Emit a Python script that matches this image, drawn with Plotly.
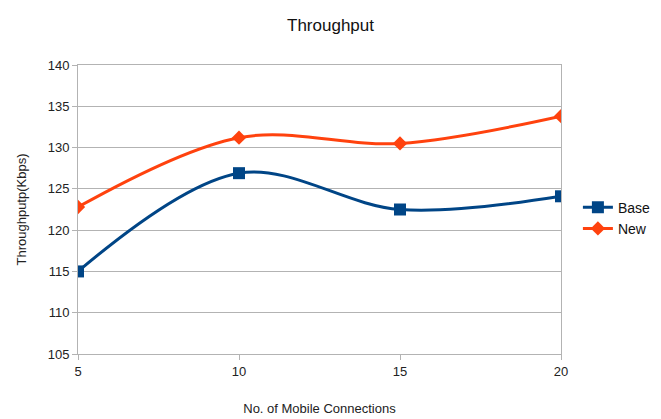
import plotly.graph_objects as go

connections = [5, 10, 15, 20]
base = [115.0, 126.9, 122.5, 124.1]
new = [122.8, 131.2, 130.5, 133.8]
y_ticks = [105, 110, 115, 120, 125, 130, 135, 140]

fig = go.Figure()
fig.add_trace(go.Scatter(
    x=connections, y=base, name="Base", mode="lines+markers",
    line=dict(color="#004586", width=3, shape="spline", smoothing=1.0),
    marker=dict(symbol="square", size=12, color="#004586"),
))
fig.add_trace(go.Scatter(
    x=connections, y=new, name="New", mode="lines+markers",
    line=dict(color="#ff420e", width=3, shape="spline", smoothing=1.0),
    marker=dict(symbol="diamond", size=11, color="#ff420e"),
))

font_family = "Liberation Sans, Arial, sans-serif"
fig.update_layout(
    width=661, height=419,
    margin=dict(l=78, r=100, t=65, b=65, autoexpand=False),
    paper_bgcolor="white", plot_bgcolor="white",
    font=dict(family=font_family, size=12, color="#222222"),
    title=dict(text="Throughput", x=0.5, xanchor="center", y=0.94, yanchor="middle",
               font=dict(size=17, color="#111111")),
    showlegend=True,
    legend=dict(x=1.035, y=0.47, xanchor="left", yanchor="middle",
                font=dict(size=14, color="#111111"), itemwidth=30),
)
fig.update_xaxes(
    range=[5, 20], tickvals=connections, ticktext=[str(c) for c in connections],
    showgrid=False, showline=True, linecolor="#b3b3b3", linewidth=1, mirror=True,
    ticks="outside", ticklen=5, tickcolor="#b3b3b3", tickfont=dict(size=13),
    title=dict(text="No. of Mobile Connections", font=dict(size=13), standoff=26),
    zeroline=False, automargin=False,
)
fig.update_yaxes(
    range=[105, 140], tickvals=y_ticks,
    showgrid=True, gridcolor="#b3b3b3", gridwidth=1,
    showline=True, linecolor="#b3b3b3", linewidth=1, mirror=True,
    ticks="outside", ticklen=5, tickcolor="#b3b3b3", tickfont=dict(size=13),
    title=dict(text="Throughputp(Kbps)", font=dict(size=13), standoff=18),
    zeroline=False, automargin=False,
)

fig.write_html("out.html")
